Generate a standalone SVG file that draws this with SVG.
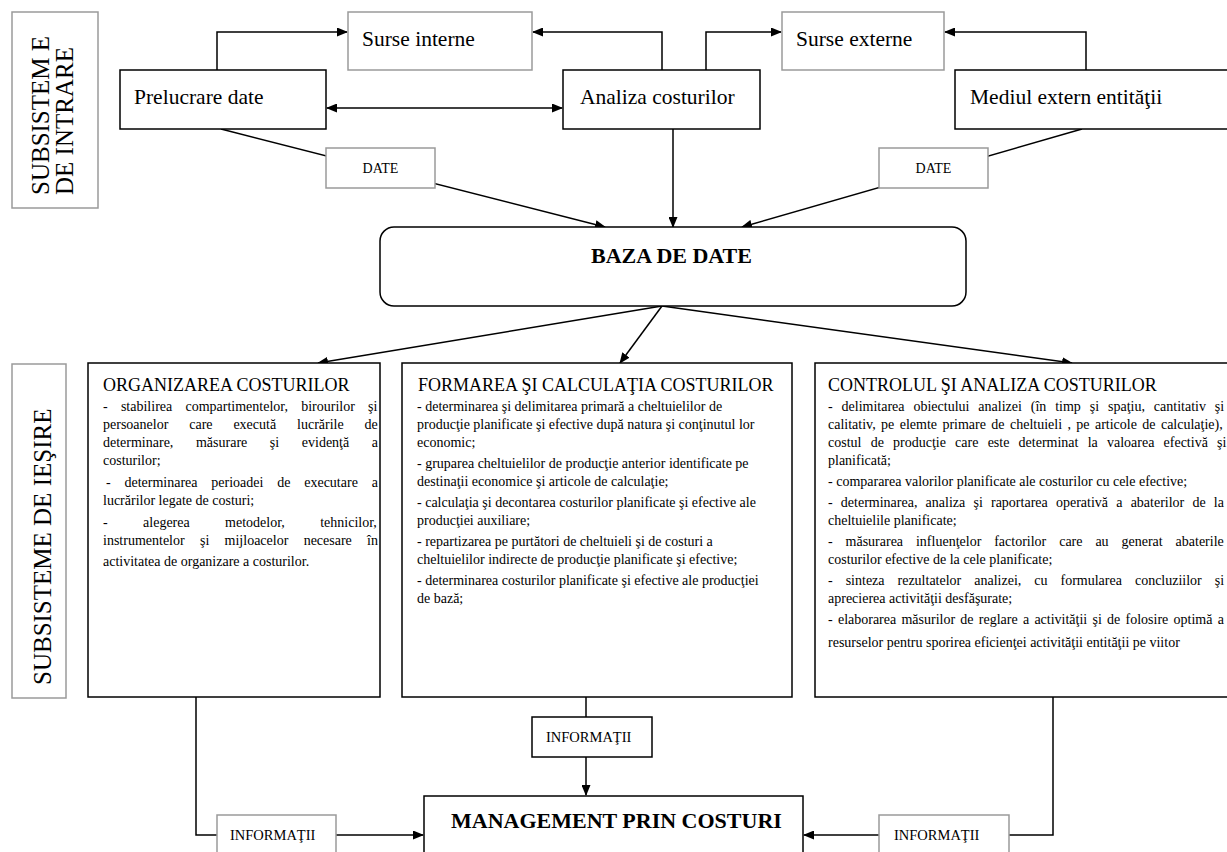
<svg xmlns="http://www.w3.org/2000/svg" width="1227" height="852" viewBox="0 0 1227 852">
<style>
text{font-family:"Liberation Serif","Times New Roman",serif;fill:#000}
.box{fill:#fff;stroke:#000;stroke-width:1.5}
.gbox{fill:#fff;stroke:#9a9a9a;stroke-width:1.5}
.t22{font-size:21.5px}
.bold{font-size:22px;font-weight:bold}
.tt{font-size:18px}
.body{font-size:14px}
.sm{font-size:14.5px}
.v{font-size:25px}
</style>
<defs>
<marker id="arr" markerUnits="userSpaceOnUse" markerWidth="11" markerHeight="9" refX="10" refY="4.5" orient="auto-start-reverse">
<path d="M0,0 L11,4.5 L0,9 z" fill="#000"/>
</marker>
</defs>
<g id="connectors" fill="none" stroke="#000" stroke-width="1.5">
<path d="M217,70 V32 H347" marker-end="url(#arr)"/>
<path d="M662,70 V32 H533" marker-end="url(#arr)"/>
<path d="M706,70 V32 H781" marker-end="url(#arr)"/>
<path d="M1086,70 V32 H945" marker-end="url(#arr)"/>
<line x1="327" y1="108" x2="562" y2="108" marker-start="url(#arr)" marker-end="url(#arr)"/>
<line x1="221" y1="129" x2="605" y2="227" marker-end="url(#arr)"/>
<line x1="673" y1="129" x2="673" y2="227" marker-end="url(#arr)"/>
<line x1="1082" y1="129" x2="742" y2="227" marker-end="url(#arr)"/>
<line x1="662" y1="306" x2="318" y2="363" marker-end="url(#arr)"/>
<line x1="662" y1="306" x2="620" y2="363" marker-end="url(#arr)"/>
<line x1="662" y1="306" x2="1072" y2="363" marker-end="url(#arr)"/>
<path d="M586,697 V717"/>
<path d="M586,757 V795" marker-end="url(#arr)"/>
<path d="M196,697 V835 H217"/>
<path d="M336,835 H423" marker-end="url(#arr)"/>
<path d="M1053,697 V835 H1009"/>
<path d="M879,835 H804" marker-end="url(#arr)"/>
</g>
<g id="label-intrare">
<rect class="gbox" x="12" y="12" width="86" height="196"/>
<text class="v" transform="translate(49,195) rotate(-90)">SUBSISTEM E</text>
<text class="v" transform="translate(73,195) rotate(-90)">DE INTRARE</text>
</g>
<g id="label-iesire">
<rect class="gbox" x="12" y="364" width="54" height="334"/>
<text class="v" transform="translate(51,685) rotate(-90)">SUBSISTEME DE IEŞIRE</text>
</g>
<g id="surse-interne">
<rect class="gbox" x="348" y="12" width="184" height="58"/>
<text class="t22" x="362" y="46">Surse interne</text>
</g>
<g id="surse-externe">
<rect class="gbox" x="782" y="12" width="162" height="58"/>
<text class="t22" x="796" y="46">Surse externe</text>
</g>
<g id="prelucrare-date">
<rect class="box" x="120" y="70" width="206" height="59"/>
<text class="t22" x="134" y="104">Prelucrare date</text>
</g>
<g id="analiza-costurilor">
<rect class="box" x="563" y="70" width="197" height="59"/>
<text class="t22" x="580" y="104">Analiza costurilor</text>
</g>
<g id="mediul-extern">
<rect class="box" x="955" y="70" width="280" height="59"/>
<text class="t22" x="970" y="104">Mediul extern entităţii</text>
</g>
<g id="date-left">
<rect class="gbox" x="326" y="148" width="109" height="40"/>
<text class="body" x="380.5" y="173" text-anchor="middle">DATE</text>
</g>
<g id="date-right">
<rect class="gbox" x="879" y="148" width="109" height="40"/>
<text class="body" x="933.5" y="173" text-anchor="middle">DATE</text>
</g>
<g id="baza-de-date">
<rect class="box" x="380" y="227" width="586" height="79" rx="14"/>
<text class="bold" x="591" y="263">BAZA DE DATE</text>
</g>
<g id="organizarea">
<rect class="box" x="88" y="363" width="292" height="334"/>
<text class="tt" x="103" y="391">ORGANIZAREA COSTURILOR</text>
<text class="body" x="103" y="411" word-spacing="9.75">- stabilirea compartimentelor, birourilor şi</text>
<text class="body" x="103" y="429" word-spacing="17.4">persoanelor care execută lucrările de</text>
<text class="body" x="103" y="447" word-spacing="19.1">determinare, măsurare şi evidenţă a</text>
<text class="body" x="103" y="465">costurilor;</text>
<text class="body" x="106" y="487" word-spacing="10.3">- determinarea perioadei de executare a</text>
<text class="body" x="103" y="505">lucrărilor legate de costuri;</text>
<text class="body" x="103" y="527" word-spacing="31.9">- alegerea metodelor, tehnicilor,</text>
<text class="body" x="103" y="545" word-spacing="11.8">instrumentelor şi mijloacelor necesare în</text>
<text class="body" x="103" y="566">activitatea de organizare a costurilor.</text>
</g>
<g id="formarea">
<rect class="box" x="402" y="363" width="390" height="334"/>
<text class="tt" x="418" y="391">FORMAREA ŞI CALCULAŢIA COSTURILOR</text>
<text class="body" x="417" y="411">- determinarea şi delimitarea primară a cheltuielilor de</text>
<text class="body" x="417" y="429">producţie planificate şi efective după natura şi conţinutul lor</text>
<text class="body" x="417" y="447">economic;</text>
<text class="body" x="417" y="468">- gruparea cheltuielilor de producţie anterior identificate pe</text>
<text class="body" x="417" y="486">destinaţii economice şi articole de calculaţie;</text>
<text class="body" x="417" y="507">- calculaţia şi decontarea costurilor planificate şi efective ale</text>
<text class="body" x="417" y="525">producţiei auxiliare;</text>
<text class="body" x="417" y="546">- repartizarea pe purtători de cheltuieli şi de costuri a</text>
<text class="body" x="417" y="564">cheltuielilor indirecte de producţie planificate şi efective;</text>
<text class="body" x="417" y="585">- determinarea costurilor planificate şi efective ale producţiei</text>
<text class="body" x="417" y="603">de bază;</text>
</g>
<g id="controlul">
<rect class="box" x="815" y="363" width="420" height="334"/>
<text class="tt" x="828" y="391">CONTROLUL ŞI ANALIZA COSTURILOR</text>
<text class="body" x="828" y="411" word-spacing="5.4">- delimitarea obiectului analizei (în timp şi spaţiu, cantitativ şi</text>
<text class="body" x="828" y="429" word-spacing="1.9">calitativ, pe elemte primare de cheltuieli , pe articole de calculaţie),</text>
<text class="body" x="828" y="447" word-spacing="5.7">costul de producţie care este determinat la valoarea efectivă şi</text>
<text class="body" x="828" y="465">planificată;</text>
<text class="body" x="828" y="486">- compararea valorilor planificate ale costurilor cu cele efective;</text>
<text class="body" x="828" y="507" word-spacing="4.7">- determinarea, analiza şi raportarea operativă a abaterilor de la</text>
<text class="body" x="828" y="525">cheltuielile planificate;</text>
<text class="body" x="828" y="546" word-spacing="9.4">- măsurarea influenţelor factorilor care au generat abaterile</text>
<text class="body" x="828" y="564">costurilor efective de la cele planificate;</text>
<text class="body" x="828" y="585" word-spacing="9.5">- sinteza rezultatelor analizei, cu formularea concluziilor şi</text>
<text class="body" x="828" y="603">aprecierea activităţii desfăşurate;</text>
<text class="body" x="828" y="624" word-spacing="1.75">- elaborarea măsurilor de reglare a activităţii şi de folosire optimă a</text>
<text class="body" x="828" y="647">resurselor pentru sporirea eficienţei activităţii entităţii pe viitor</text>
</g>
<g id="informatii-mid">
<rect class="box" x="532" y="717" width="120" height="40"/>
<text class="sm" x="546" y="742">INFORMAŢII</text>
</g>
<g id="informatii-left">
<rect class="gbox" x="217" y="815" width="119" height="50"/>
<text class="sm" x="230" y="840">INFORMAŢII</text>
</g>
<g id="informatii-right">
<rect class="gbox" x="879" y="815" width="130" height="50"/>
<text class="sm" x="894" y="840">INFORMAŢII</text>
</g>
<g id="management">
<rect class="box" x="424" y="796" width="379" height="70"/>
<text class="bold" x="451" y="828">MANAGEMENT PRIN COSTURI</text>
</g>
</svg>
